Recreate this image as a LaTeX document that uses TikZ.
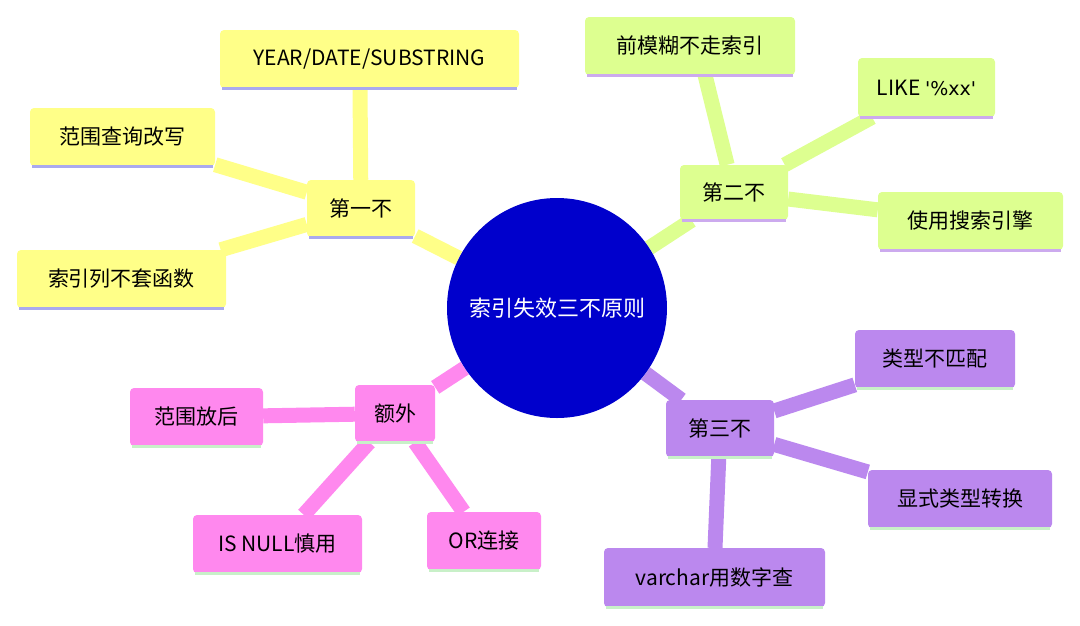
\documentclass[tikz,border=0pt]{standalone}
\usepackage{fontspec}
\setmainfont{Noto Sans CJK SC}
\newfontfamily\lat{DejaVu Sans}
\usetikzlibrary{backgrounds}
\definecolor{yel}{HTML}{FFFF88}
\definecolor{grn}{HTML}{DDFF90}
\definecolor{pur}{HTML}{BB88EE}
\definecolor{pnk}{HTML}{FF88EE}
\definecolor{lav}{HTML}{AAAAEE}
\definecolor{mint}{HTML}{C8F0C8}
\definecolor{lil}{HTML}{CCAAEE}
\definecolor{cblue}{HTML}{0000CC}
\tikzset{
  bx/.style={rectangle, rounded corners=4pt, inner sep=0pt, font=\fontsize{21}{24}\selectfont},
  con/.style={line width=15pt},
}
\begin{document}
\begin{tikzpicture}[x=1pt,y=-1pt]
\useasboundingbox (0,0) rectangle (1080,625);
\newcommand\bxn[7]{\node[bx,fill=#2,minimum width=#5-#3,minimum height=#6-#4] (#1) at ({(#3+#5)/2},{(#4+#6)/2}) {#7};}
\node[circle,fill=cblue,minimum size=220pt,text=white,font=\fontsize{22}{26}\selectfont] (c) at (557,308) {索引失效三不原则};
\bxn{y0}{yel}{307}{180}{415}{237}{第一不}
\bxn{y1}{yel}{220}{30}{519}{88}{YEAR/DATE/SUBSTRING}
\bxn{y2}{yel}{30}{108}{215}{166}{范围查询改写}
\bxn{y3}{yel}{17}{250}{226}{308}{索引列不套函数}
\bxn{g0}{grn}{680}{165}{788}{220}{第二不}
\bxn{g1}{grn}{585}{17}{795}{75}{前模糊不走索引}
\bxn{g2}{grn}{858}{58}{995}{117}{LIKE {\lat\fontsize{19}{22}\selectfont\char"27\%xx\char"27}}
\bxn{g3}{grn}{878}{192}{1063}{250}{使用搜索引擎}
\bxn{p0}{pur}{666}{400}{774}{457}{第三不}
\bxn{p1}{pur}{855}{330}{1015}{388}{类型不匹配}
\bxn{p2}{pur}{868}{470}{1052}{528}{显式类型转换}
\bxn{p3}{pur}{604}{548}{825}{607}{varchar用数字查}
\bxn{k0}{pnk}{355}{385}{435}{442}{额外}
\bxn{k1}{pnk}{130}{388}{263}{446}{范围放后}
\bxn{k2}{pnk}{193}{515}{362}{573}{IS NULL慎用}
\bxn{k3}{pnk}{427}{512}{541}{570}{OR连接}
\begin{scope}[on background layer]
\draw[con,yel] (c) -- (y0);
\draw[con,yel] (y0) -- (360,88);
\draw[con,yel] (y0) -- (y2);
\draw[con,yel] (y0) -- (y3);
\draw[con,grn] (c) -- (g0);
\draw[con,grn] (g0) -- (705,75);
\draw[con,grn] (g0) -- (g2);
\draw[con,grn] (g0) -- (g3);
\draw[con,pur] (c) -- (p0);
\draw[con,pur] (p0) -- (p1);
\draw[con,pur] (p0) -- (p2);
\draw[con,pur] (p0) -- (715,548);
\draw[con,pnk] (c) -- (k0);
\draw[con,pnk] (k0) -- (k1);
\draw[con,pnk] (k0) -- (k2);
\draw[con,pnk] (k0) -- (k3);
\end{scope}
\foreach \n/\c in {y0/lav,y1/lav,y2/lav,y3/lav,g0/lil,g1/lil,g2/lil,g3/lil,p0/mint,p1/mint,p2/mint,p3/mint,k0/mint,k1/mint,k2/mint,k3/mint}
  \draw[line width=3pt,\c] ([xshift=2pt]\n.south west) -- ([xshift=-2pt]\n.south east);
\end{tikzpicture}
\end{document}
